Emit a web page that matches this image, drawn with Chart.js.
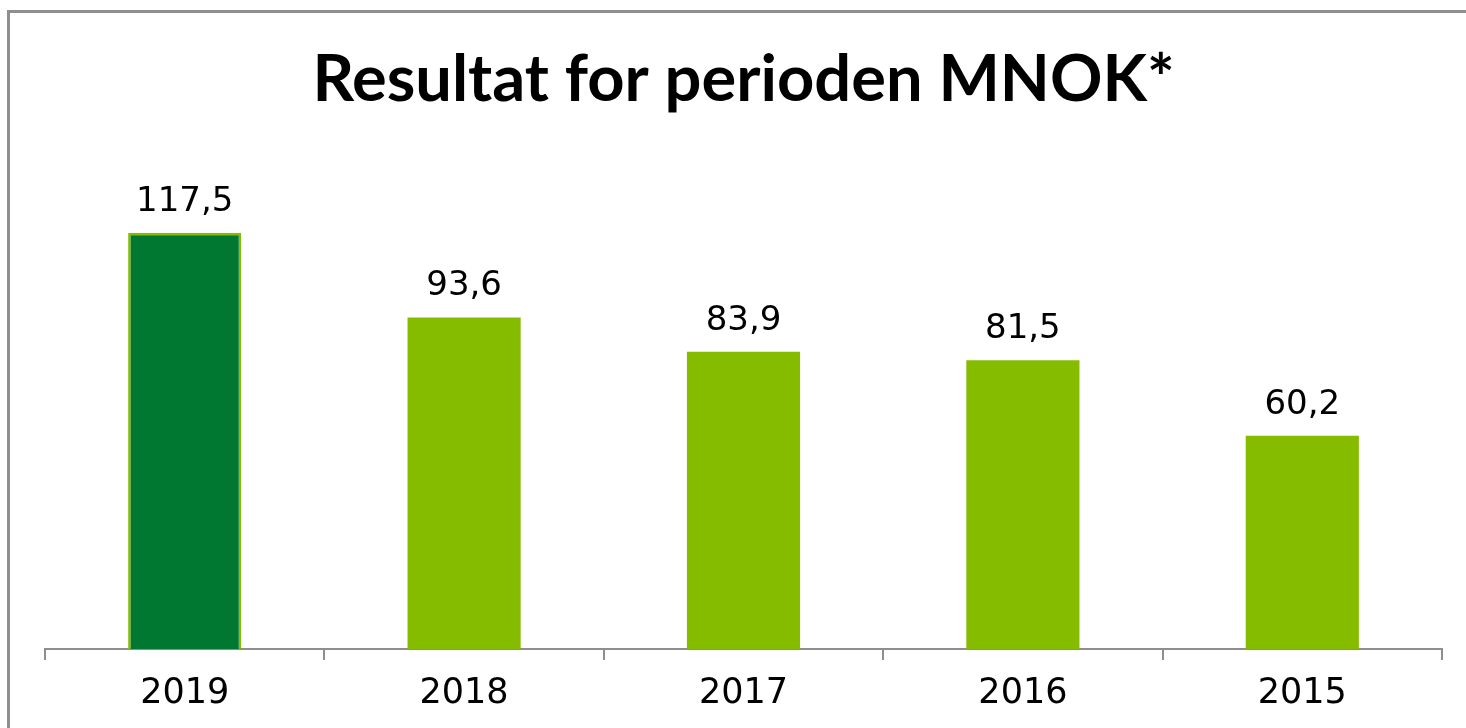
<!DOCTYPE html>
<html>
<head>
<meta charset="utf-8">
<script src="https://cdn.jsdelivr.net/npm/chart.js@4"></script>
<style>
  html, body { margin: 0; padding: 0; background: #fff; }
  #wrap { width: 1466px; height: 728px; }
</style>
</head>
<body>
<div id="wrap"><canvas id="resultChart" width="1466" height="728"></canvas></div>
<script>
const years = ['2019', '2018', '2017', '2016', '2015'];
const results = [117.5, 93.6, 83.9, 81.5, 60.2];
const barColors = ['#007832', '#85bc00', '#85bc00', '#85bc00', '#85bc00'];
const titleText = 'Resultat for perioden MNOK*';

// Frame (top + left only, like the original slide)
const framePlugin = {
  id: 'frame',
  beforeDraw(chart){
    const c = chart.ctx;
    c.save();
    c.fillStyle = '#ffffff';
    c.fillRect(0, 0, chart.width, chart.height);
    c.strokeStyle = '#8e8e8e';
    c.lineWidth = 3;
    c.beginPath();
    c.moveTo(chart.width, 11.5);
    c.lineTo(8.5, 11.5);
    c.lineTo(8.5, chart.height);
    c.stroke();
    c.restore();
  }
};

// Value labels above bars
const valueLabels = {
  id: 'valueLabels',
  afterDatasetsDraw(chart){
    const c = chart.ctx;
    const meta = chart.getDatasetMeta(0);
    c.save();
    c.font = '34px "DejaVu Sans"';
    c.fillStyle = '#000';
    c.textAlign = 'center';
    c.textBaseline = 'middle';
    meta.data.forEach((bar, i) => {
      c.fillText(results[i].toFixed(1).replace('.', ','), bar.x, bar.y - 31);
    });
    c.restore();
  }
};

const ctx = document.getElementById('resultChart').getContext('2d');
new Chart(ctx, {
  type: 'bar',
  data: {
    labels: years,
    datasets: [{
      data: results,
      backgroundColor: barColors,
      borderColor: '#85bc00',
      borderWidth: [2.5, 0, 0, 0, 0],
      borderSkipped: 'bottom',
      categoryPercentage: 1,
      barPercentage: 0.405
    }]
  },
  options: {
    responsive: false,
    animation: false,
    layout: { padding: { left: 45, right: 24, top: 0, bottom: 0 } },
    plugins: {
      legend: { display: false },
      tooltip: { enabled: false },
      title: {
        display: true,
        text: titleText,
        color: '#000',
        font: { family: 'Lato', size: 65, weight: 'bold', lineHeight: 1.2 },
        padding: { top: 41, bottom: 34 }
      }
    },
    scales: {
      y: { display: false, min: 0, max: 140 },
      x: {
        z: 1,
        border: { display: true, color: '#8e8e8e', width: 2 },
        grid: { display: true, drawOnChartArea: false, drawTicks: true, tickLength: 11, color: '#8e8e8e', lineWidth: 2 },
        ticks: { color: '#000', padding: 13, font: { family: 'DejaVu Sans', size: 35 } }
      }
    }
  },
  plugins: [framePlugin, valueLabels]
});
</script>
</body>
</html>
